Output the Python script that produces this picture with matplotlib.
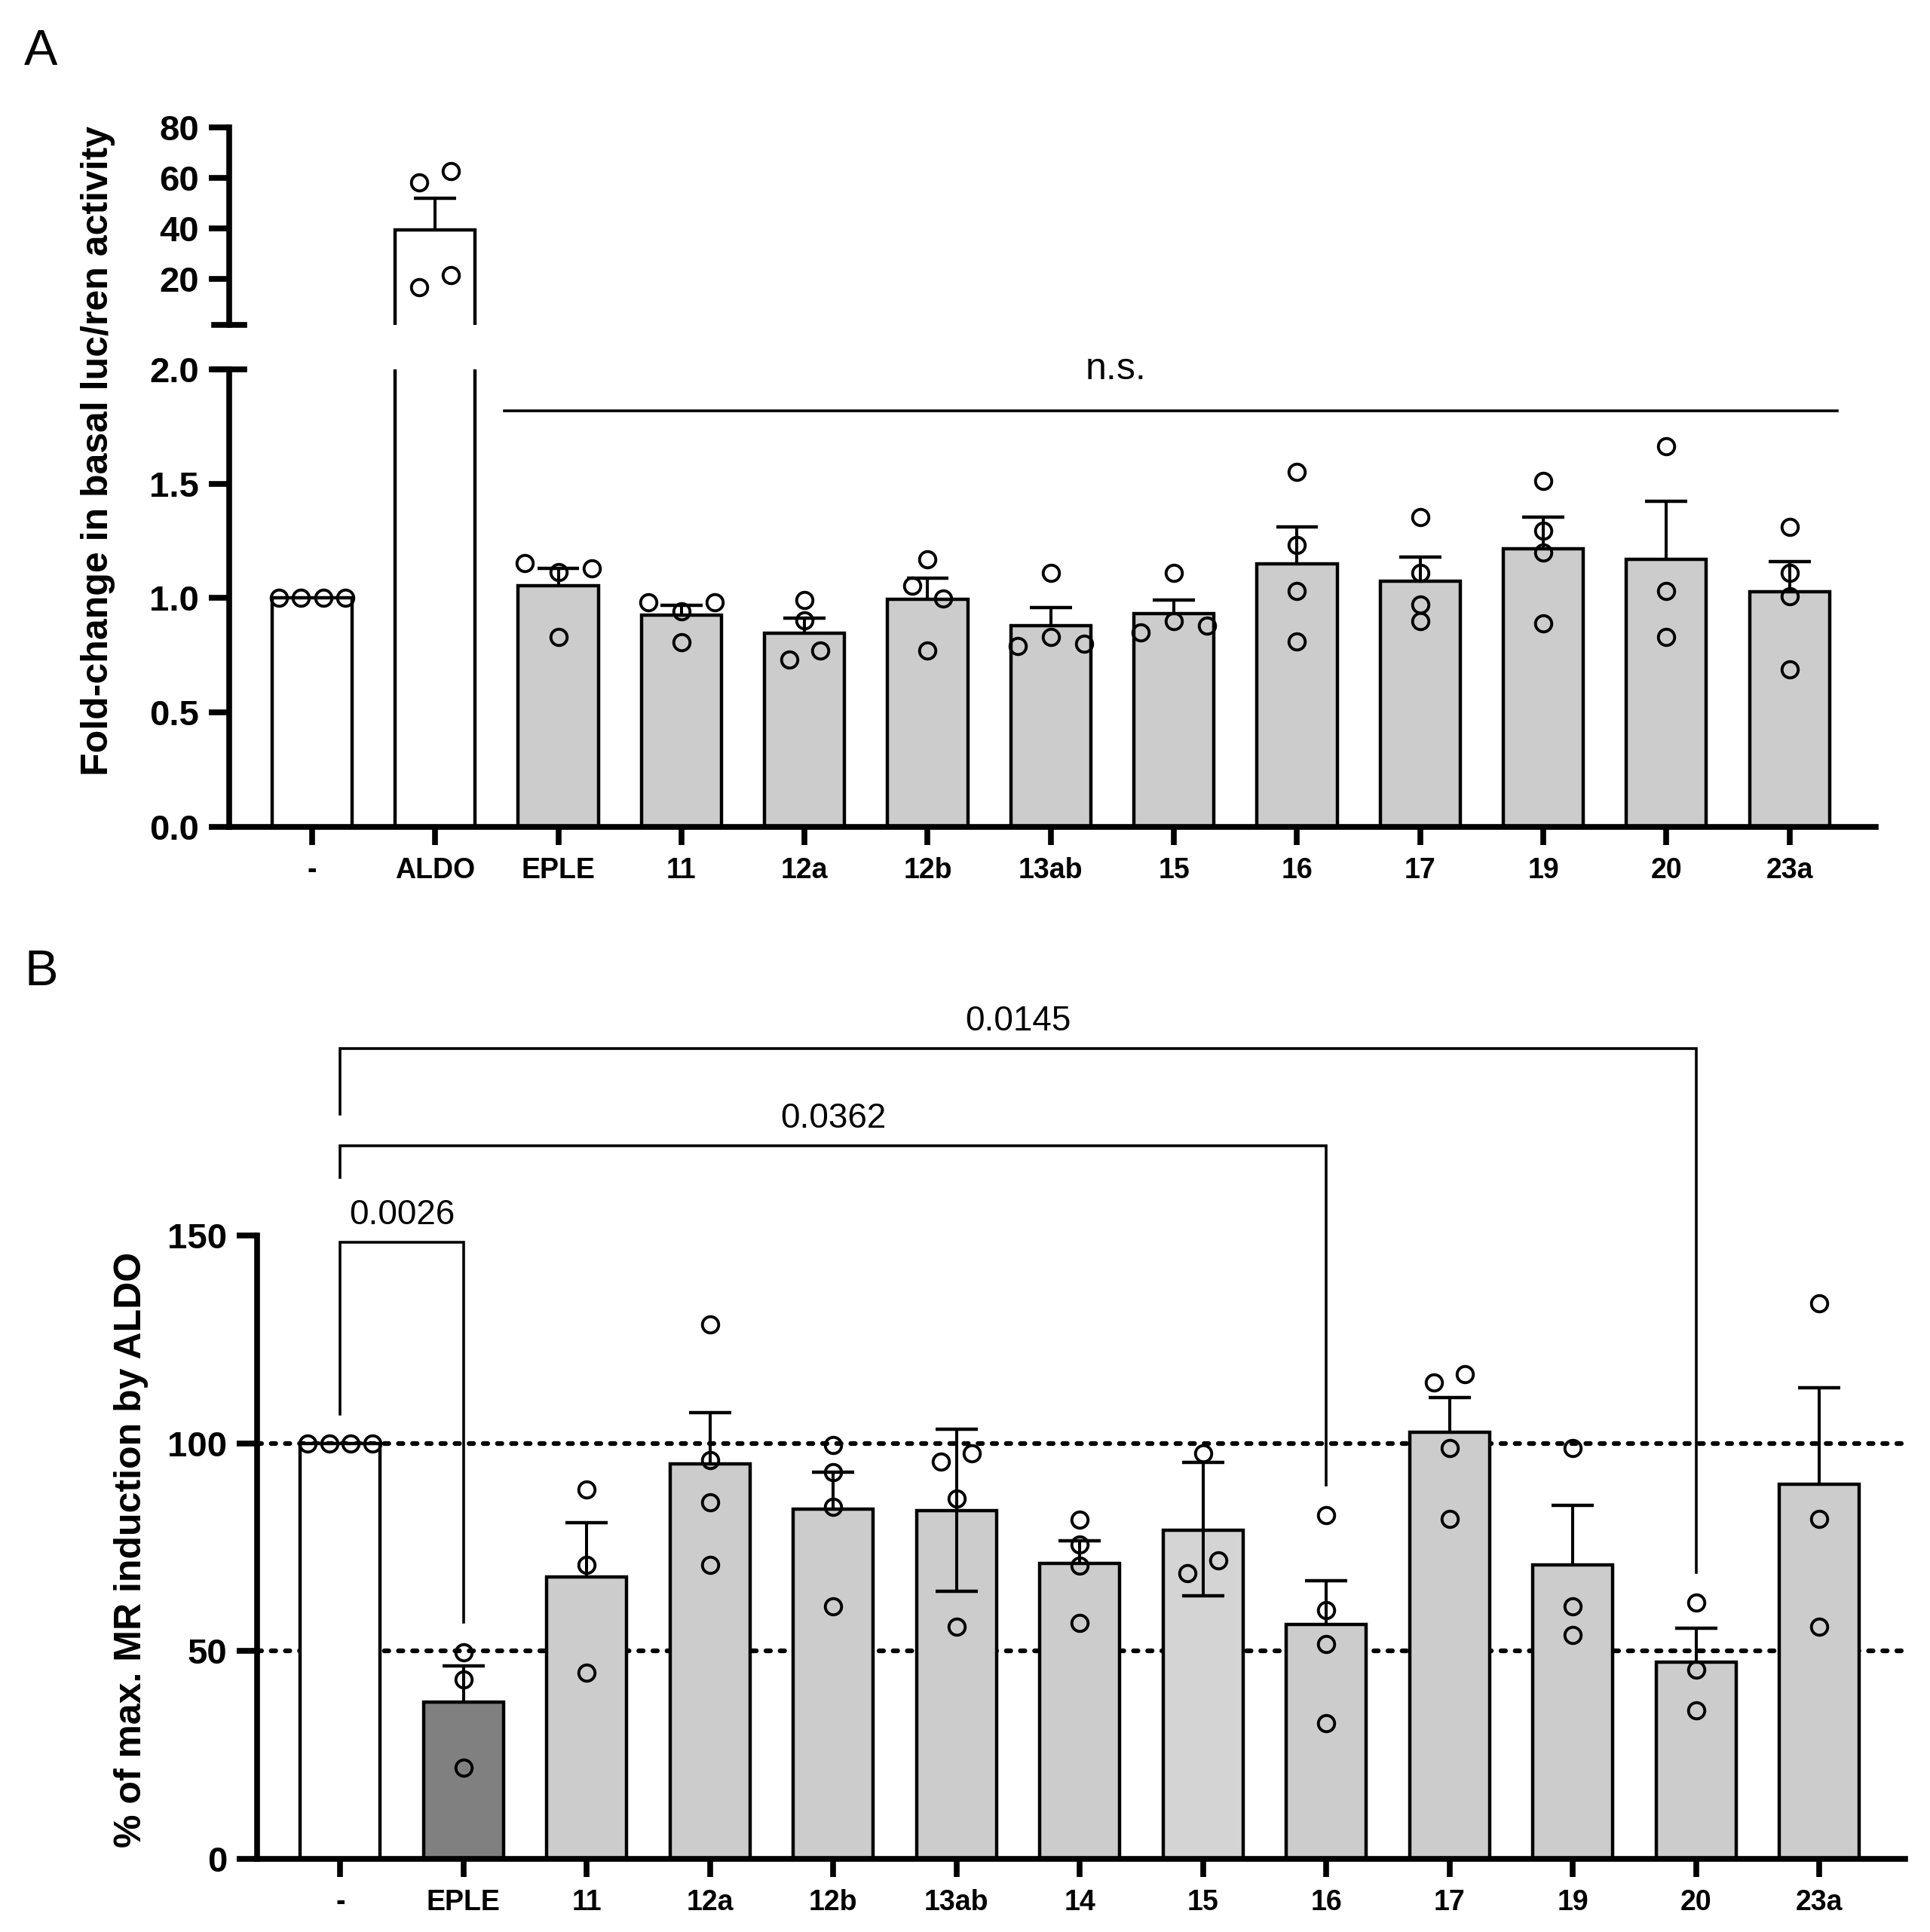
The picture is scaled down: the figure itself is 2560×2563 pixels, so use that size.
import numpy as np
import matplotlib
matplotlib.use("Agg")
import matplotlib.pyplot as plt
from matplotlib.lines import Line2D

plt.rcParams['font.family'] = ['Liberation Sans', 'DejaVu Sans']
plt.rcParams['font.weight'] = 'bold'

W, H = 2560, 2563

# ---- panel A data ----
a_labels = ['-', 'ALDO', 'EPLE', '11', '12a', '12b', '13ab', '15', '16', '17', '19', '20', '23a']
a_mean = [1.0, 39.6, 1.052, 0.926, 0.847, 0.994, 0.880, 0.931, 1.150, 1.074, 1.216, 1.170, 1.026]
a_err_top = [None, 51.9, 1.13, 0.968, 0.913, 1.085, 0.958, 0.991, 1.311, 1.180, 1.352, 1.422, 1.160]
a_points = [
    [1.0, 1.0, 1.0, 1.0],
    [58.3, 62.7, 16.8, 21.6],
    [1.153, 1.112, 1.13, 0.83],
    [0.981, 0.941, 0.981, 0.807],
    [0.991, 0.903, 0.731, 0.769],
    [1.170, 1.052, 0.999, 0.769],
    [1.110, 0.830, 0.789, 0.800],
    [1.110, 0.898, 0.850, 0.880],
    [1.551, 1.231, 1.029, 0.810],
    [1.352, 1.110, 0.971, 0.898],
    [1.511, 1.294, 1.200, 0.890],
    [1.662, 1.029, 0.830],
    [1.311, 1.110, 1.009, 0.689],
]
a_jitter = [
    [-0.27, -0.09, 0.09, 0.27],
    [-0.13, 0.13, -0.13, 0.13],
    [-0.27, 0, 0.27, 0],
    [-0.27, 0, 0.27, 0],
    [0, 0, -0.125, 0.125],
    [0, -0.125, 0.125, 0],
    [0, 0, -0.27, 0.27],
    [0, 0, -0.27, 0.27],
    [0, 0, 0, 0], [0, 0, 0, 0], [0, 0, 0, 0], [0, 0, 0], [0, 0, 0, 0],
]
a_colors = ['white', 'white'] + ['#cccccc'] * 11
a_ns_span = (1.56, 12.39)
a_ns_y = 1.818

# ---- panel B data ----
b_labels = ['-', 'EPLE', '11', '12a', '12b', '13ab', '14', '15', '16', '17', '19', '20', '23a']
b_mean = [100.0, 37.8, 67.9, 95.0, 84.2, 83.8, 71.1, 79.1, 56.5, 102.7, 70.8, 47.4, 90.1]
b_err_top = [None, 46.5, 81.0, 107.4, 93.0, 103.5, 76.6, 95.4, 67.0, 111.1, 85.1, 55.5, 113.4]
b_err_bot = [None, None, None, None, None, 64.5, None, 63.4, None, None, None, None, None]
b_points = [
    [100, 100, 100, 100],
    [49.8, 43.2, 21.9],
    [88.9, 70.7, 44.8],
    [128.7, 95.9, 85.9, 70.7],
    [99.7, 93.0, 84.8, 60.8],
    [95.7, 97.7, 86.8, 55.8],
    [81.7, 75.7, 70.5, 56.8],
    [97.7, 68.8, 71.9],
    [82.7, 59.9, 51.7, 32.7],
    [114.7, 116.7, 98.8, 81.8],
    [98.8, 60.8, 53.8],
    [61.7, 45.6, 35.7],
    [133.7, 81.8, 55.8],
]
b_jitter = [
    [-0.265, -0.09, 0.085, 0.26],
    [0, 0, 0], [0, 0, 0], [0, 0, 0, 0], [0, 0, 0, 0],
    [-0.125, 0.125, 0, 0],
    [0, 0, 0, 0],
    [0, -0.125, 0.125],
    [0, 0, 0, 0],
    [-0.125, 0.125, 0, 0],
    [0, 0, 0], [0, 0, 0], [0, 0, 0],
]
b_colors = ['white', '#808080', '#cccccc', '#cccccc', '#cccccc', '#cccccc', '#cccccc',
            '#d4d4d4', '#cccccc', '#cccccc', '#cccccc', '#cccccc', '#cccccc']
b_refs = [100, 50]
b_brk_pairs = [(0, 1), (0, 8), (0, 11)]
b_brk_y = [148.5, 171.7, 195.1]
b_brk_left = [107.0, 164.1, 179.3]
b_brk_right = [56.9, 90.0, 69.0]
b_brk_text = ['0.0026', '0.0362', '0.0145']

SPINE = 5.5
BAR_W = 0.65
CAP = 0.171


def style_axis(ax, ylen=19.5):
    for s in ['top', 'right']:
        ax.spines[s].set_visible(False)
    for s in ['left', 'bottom']:
        ax.spines[s].set_linewidth(SPINE)
    ax.tick_params(axis='y', length=ylen, width=SPINE, labelsize=34, pad=9)
    ax.tick_params(axis='x', length=17, width=SPINE, labelsize=27, pad=12)


def draw_group(ax, means, tops, bots, pts, jit, colors, ymin, ymax):
    idx = [i for i in range(len(means)) if means[i] > ymin]
    ax.bar(idx, [means[i] for i in idx], width=BAR_W, color=[colors[i] for i in idx],
           edgecolor='black', linewidth=3.2, zorder=2)
    for i in range(len(means)):
        if tops[i] is not None and tops[i] > ymin:
            lo = means[i] if bots is None or bots[i] is None else bots[i]
            ax.vlines(i, lo, tops[i], color='black', lw=2.9, zorder=3)
            ax.hlines(tops[i], i - CAP, i + CAP, color='black', lw=3.2, zorder=3)
            if bots is not None and bots[i] is not None:
                ax.hlines(bots[i], i - CAP, i + CAP, color='black', lw=3.2, zorder=3)
        sel = [(i + j, v) for j, v in zip(jit[i], pts[i]) if ymin <= v <= ymax]
        if sel:
            xs, ys = zip(*sel)
            ax.plot(xs, ys, 'o', mfc='none', mec='black', ms=15.5, mew=2.8, zorder=4)


fig = plt.figure(figsize=(W / 100, H / 100), dpi=100)

# ---- panel A ----
ax_top = fig.add_axes([0.1186, 0.8319, 0.8533, 0.1021])
ax_a = fig.add_axes([0.1186, 0.5721, 0.8533, 0.2368])
style_axis(ax_top)
style_axis(ax_a)
draw_group(ax_top, a_mean, a_err_top, None, a_points, a_jitter, a_colors, 2, 80)
draw_group(ax_a, a_mean, a_err_top, None, a_points, a_jitter, a_colors, 0, 2)
for ax in (ax_top, ax_a):
    ax.set_xlim(-0.675, 12.70)

ax_top.set_ylim(2, 80)
ax_top.set_yticks([20, 40, 60, 80])
ax_top.spines['bottom'].set_visible(False)
ax_top.set_xticks([])

ax_a.set_ylim(0, 2.0)
ax_a.set_yticks([0, 0.5, 1.0, 1.5, 2.0])
ax_a.set_yticklabels(['%.1f' % v for v in [0, 0.5, 1.0, 1.5, 2.0]])
ax_a.set_xticks(range(len(a_labels)))
ax_a.set_xticklabels(a_labels)

ax_a.plot(a_ns_span, [a_ns_y, a_ns_y], color='black', lw=2.6, zorder=3)
ax_a.text(6.53, 1.955, 'n.s.', ha='center', va='baseline', fontsize=36,
          fontweight='normal', clip_on=False)

# axis break marks
for yb in (0.8319, 0.8089):
    fig.add_artist(Line2D([0.1186 - 0.0078, 0.1186 + 0.0078], [yb, yb],
                          transform=fig.transFigure, color='black', lw=SPINE))

fig.text(130 / W, 0.7668, 'Fold-change in basal luc/ren activity', rotation=90,
         ha='center', va='center', fontsize=36)
fig.text(32 / W, 1 - 86 / H, 'A', fontsize=48, fontweight='normal', ha='left', va='baseline')

# ---- panel B ----
ax_b = fig.add_axes([0.1332, 0.03785, 0.8539, 0.32255])
style_axis(ax_b)
for r in b_refs:
    ax_b.axhline(r, color='black', lw=4.5, linestyle=(0, (0.95, 2.05)),
                 dash_capstyle='round', zorder=1)
draw_group(ax_b, b_mean, b_err_top, b_err_bot, b_points, b_jitter, b_colors, 0, 150)
ax_b.set_xlim(-0.675, 12.695)
ax_b.set_ylim(0, 150)
ax_b.set_yticks([0, 50, 100, 150])
ax_b.set_xticks(range(len(b_labels)))
ax_b.set_xticklabels(b_labels)

for (i0, i1), yb, yl, yr, t in zip(b_brk_pairs, b_brk_y, b_brk_left, b_brk_right, b_brk_text):
    ax_b.plot([i0, i0, i1, i1], [yl, yb, yb, yr], color='black', lw=2.6,
              solid_joinstyle='miter', clip_on=False, zorder=5)
    ax_b.text((i0 + i1) / 2, yb + 4.3, t, ha='center', va='baseline', fontsize=33,
              fontweight='normal', clip_on=False)

fig.text(174 / W, 0.1978, '% of max. MR induction by ALDO', rotation=90,
         ha='center', va='center', fontsize=36)
fig.text(32 / W, 1 - 1307 / H, 'B', fontsize=48, fontweight='normal', ha='left', va='baseline')

fig.savefig('out.png', dpi=100, facecolor='white')
